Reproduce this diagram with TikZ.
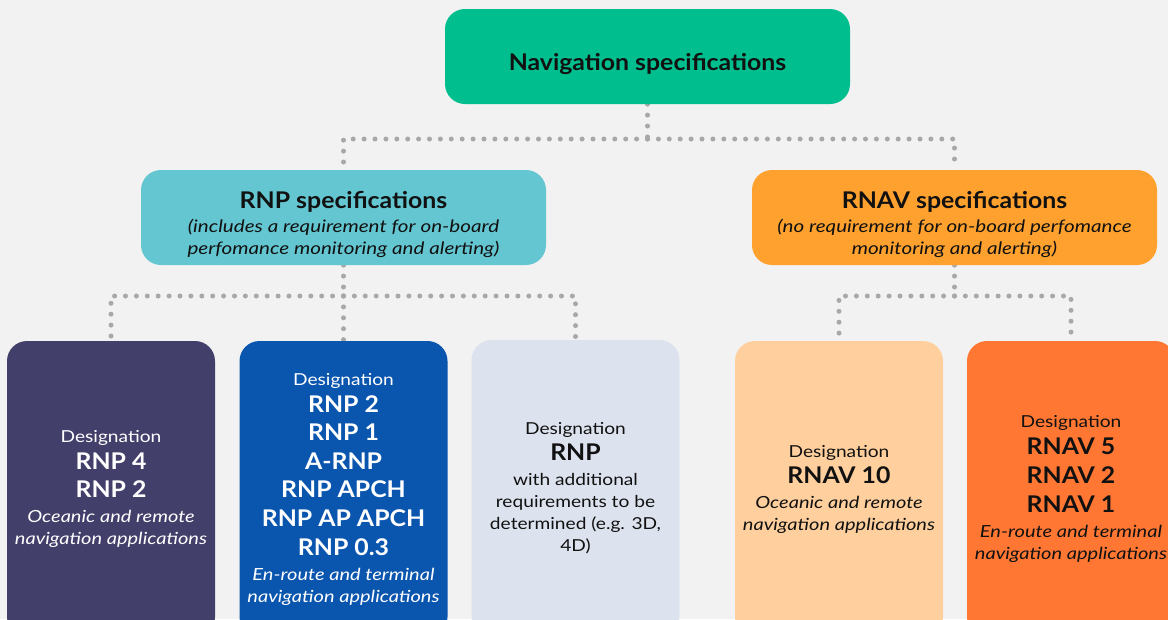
\documentclass[tikz,border=0pt]{standalone}
\usepackage{fontspec}
\setmainfont{Lato}[
  FakeStretch=1.16,
  BoldFeatures={FakeStretch=1.08},
  ItalicFeatures={FakeStretch=1.2},
  BoldItalicFeatures={FakeStretch=1.1}]
\definecolor{cbg}{HTML}{F2F2F2}
\definecolor{cgreen}{HTML}{00BE8E}
\definecolor{ccyan}{HTML}{64C6D1}
\definecolor{camber}{HTML}{FFA12E}
\definecolor{cpurple}{HTML}{433F6B}
\definecolor{cblue}{HTML}{0A55AE}
\definecolor{clight}{HTML}{DDE3EE}
\definecolor{cpeach}{HTML}{FFD09E}
\definecolor{corange}{HTML}{FF7733}
\definecolor{cdot}{HTML}{A8A8A8}
\definecolor{cink}{HTML}{111111}
\pgfdeclarelayer{back}
\pgfsetlayers{back,main}
\newcommand{\ttl}[1]{{\fontsize{23}{22}\selectfont\bfseries #1}}
\newcommand{\bld}[1]{{\fontsize{23}{22}\selectfont\bfseries #1}}
\newcommand{\itl}[1]{{\fontsize{17.2}{22}\selectfont\itshape #1}}
\newcommand{\itn}[1]{{\fontsize{16.7}{22}\selectfont\itshape #1}}
\begin{document}
\begin{tikzpicture}[x=1pt,y=-1pt,
  box/.style={rounded corners=20pt, inner sep=0pt, align=center, text=cink,
    font=\fontsize{16.5}{22}\selectfont},
  boxtext/.style={inner sep=0pt, align=center, text=cink,
    font=\fontsize{16.5}{22}\selectfont},
  topbox/.style={box, minimum width=405pt, minimum height=95pt},
  leafbox/.style={box, minimum width=208pt, minimum height=296pt},
  dots/.style={draw=cdot, line width=5pt, line cap=round, dash pattern=on 0pt off 10.9pt},
]
\useasboundingbox (0,0) rectangle (1168,619);
\clip (0,0) rectangle (1168,619);
\begin{pgfonlayer}{back}
\fill[cbg] (0,0) rectangle (1168,619);
\end{pgfonlayer}

\node[topbox, fill=cgreen] (nav) at (647.5,56.5) {};
\node[boxtext] (navt) at ([yshift=-8pt]nav.center) {\ttl{Navigation specifications}};

\node[topbox, fill=ccyan] (rnp) at (343.5,217.5) {};
\node[boxtext] (rnpt) at ([yshift=-6.5pt]rnp.center)
  {\ttl{RNP specifications}\\[2pt]
   \itl{(includes a requirement for on-board}\\
   \itl{perfomance monitoring and alerting)}};

\node[topbox, fill=camber] (rnav) at (954.5,217.5) {};
\node[boxtext] (rnavt) at ([yshift=-6.5pt]rnav.center)
  {\ttl{RNAV specifications}\\[2pt]
   \itl{(no requirement for on-board perfomance}\\
   \itl{monitoring and alerting)}};

\node[leafbox, fill=cpurple, text=white] (l1) at (111,489)
  {Designation\\[5pt]
   \bld{RNP 4}\\[6.6pt]
   \bld{RNP 2}\\[3pt]
   \itn{Oceanic and remote}\\
   \itn{navigation applications}};

\node[leafbox, fill=cblue, text=white] (l2) at (343.5,489)
  {Designation\\[5pt]
   \bld{RNP 2}\\[6.6pt]
   \bld{RNP 1}\\[6.6pt]
   \bld{A-RNP}\\[6.6pt]
   \bld{RNP APCH}\\[6.6pt]
   \bld{RNP AP APCH}\\[6.6pt]
   \bld{RNP 0.3}\\[3pt]
   \itn{En-route and terminal}\\
   \itn{navigation applications}};

\node[leafbox, fill=clight] (l3) at (575.5,488)
  {Designation\\[4pt]
   \bld{RNP}\\[3pt]
   with additional\\
   requirements to be\\
   determined (e.g. 3D,\\
   4D)};

\node[leafbox, fill=cpeach] (l4) at (839,489)
  {Designation\\[4pt]
   \bld{RNAV 10}\\[3pt]
   \itn{Oceanic and remote}\\
   \itn{navigation applications}};

\node[leafbox, fill=corange] (l5) at (1071,489)
  {Designation\\[5pt]
   \bld{RNAV 5}\\[6.6pt]
   \bld{RNAV 2}\\[6.6pt]
   \bld{RNAV 1}\\[3pt]
   \itn{En-route and terminal}\\
   \itn{navigation applications}};

\begin{pgfonlayer}{back}
\coordinate (j0) at (647.5,139);
\coordinate (j1) at (343.5,296);
\coordinate (j2) at (954.5,296);
\draw[dots] (nav.south) -- (j0);
\draw[dots] (j0) -| (rnp.north);
\draw[dots] (j0) -| (rnav.north);
\draw[dots] (rnp.south) -- (j1);
\draw[dots] (j1) -| (l1.north);
\draw[dots] (j1) -- (l2.north);
\draw[dots] (j1) -| (l3.north);
\draw[dots] (rnav.south) -- (j2);
\draw[dots] (j2) -| (l4.north);
\draw[dots] (j2) -| (l5.north);
\end{pgfonlayer}
\end{tikzpicture}
\end{document}
